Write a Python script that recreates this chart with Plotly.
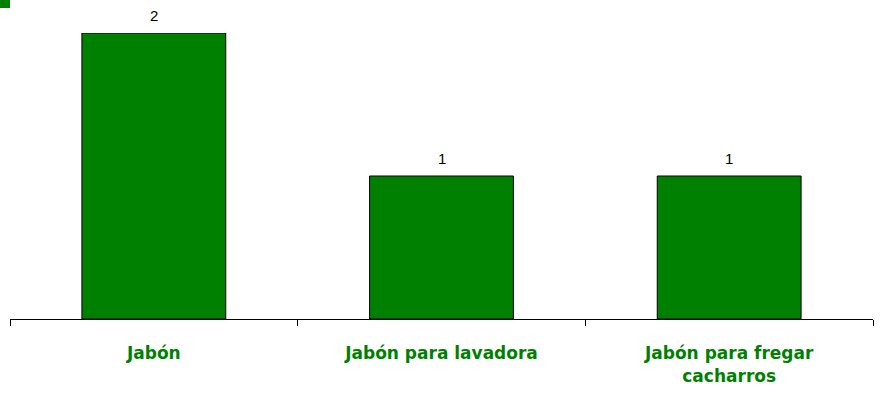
import plotly.graph_objects as go

GREEN = "#008000"

categorias = ["Jabón", "Jabón para lavadora", "Jabón para fregar<br>cacharros"]
valores = [2, 1, 1]

fig = go.Figure()
fig.add_trace(go.Bar(
    x=categorias,
    y=valores,
    width=0.5,
    marker=dict(color=GREEN, line=dict(color="black", width=1)),
    hoverinfo="skip",
))

# value labels above bars
for c, v in zip(categorias, valores):
    fig.add_annotation(x=c, y=v, text=str(v), showarrow=False, yanchor="bottom",
                       yshift=7, font=dict(family="Arial", size=15, color="black"))

# small legend-like green square in the corner
fig.add_shape(type="rect", xref="paper", yref="paper",
              xsizemode="pixel", ysizemode="pixel", xanchor=0, yanchor=1,
              x0=-10, x1=0, y0=25, y1=33,
              fillcolor=GREEN, line=dict(width=0))

fig.update_layout(
    width=882, height=396,
    margin=dict(l=10, r=9, t=33, b=77),
    plot_bgcolor="white", paper_bgcolor="white",
    showlegend=False,
    bargap=0.5,
)
fig.update_xaxes(
    showline=True, linecolor="black", linewidth=1,
    ticks="outside", tickson="boundaries", ticklen=6, tickcolor="black",
    tickangle=0, ticklabelstandoff=19,
    tickfont=dict(family="Comic Sans MS, DejaVu Sans, sans-serif", size=17, color=GREEN, weight="bold"),
)
fig.update_yaxes(range=[0, 2], visible=False, showgrid=False)

fig.write_html("out.html", config={"displayModeBar": False},
               post_script="document.body.style.margin='0';")
